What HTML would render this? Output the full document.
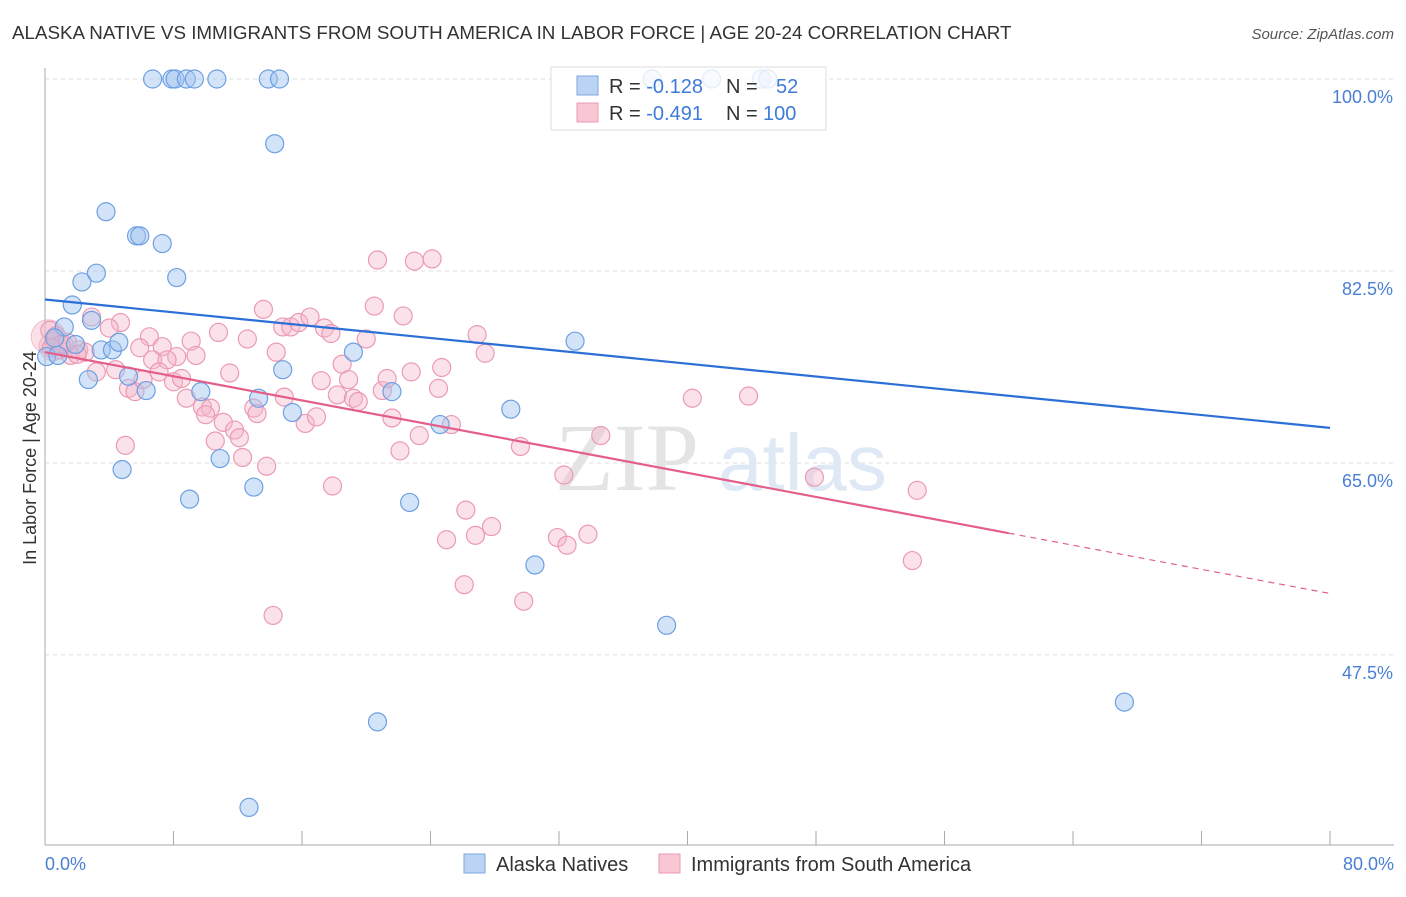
<!DOCTYPE html>
<html><head><meta charset="utf-8">
<style>
body{margin:0;background:#fff;font-family:"Liberation Sans",sans-serif;}
svg text{font-family:"Liberation Sans",sans-serif;}
</style></head>
<body>
<svg id="chart" width="1406" height="892" viewBox="0 0 1406 892" xmlns="http://www.w3.org/2000/svg">
<text x="12" y="39" font-size="18.8" fill="#333">ALASKA NATIVE VS IMMIGRANTS FROM SOUTH AMERICA IN LABOR FORCE | AGE 20-24 CORRELATION CHART</text>
<text x="1394" y="39" font-size="15" fill="#555" font-style="italic" text-anchor="end">Source: ZipAtlas.com</text>
<g id="grid"></g>
<g>
<text x="555" y="490" font-size="96" fill="#e4e4e4" font-family="Liberation Serif" style="font-family:'Liberation Serif',serif">ZIP</text>
<text x="718" y="490" font-size="80" fill="#dfe8f5">atlas</text>
</g>
<g id="axes"></g>
<g id="pts"></g>
<g id="lines"></g>
<text x="36" y="458" font-size="18" fill="#333" transform="rotate(-90 36 458)" text-anchor="middle">In Labor Force | Age 20-24</text>
<text x="45" y="870" font-size="18" fill="#4a7fd4">0.0%</text>
<text x="1394" y="870" font-size="18" fill="#4a7fd4" text-anchor="end">80.0%</text>
<g>
<rect x="551" y="67" width="275" height="63" fill="rgba(255,255,255,0.8)" stroke="#ddd"/>
<rect x="577" y="76" width="21" height="19" fill="#bcd4f4" stroke="#7ea6e0"/>
<rect x="577" y="103" width="21" height="19" fill="#f9c6d4" stroke="#ec9ab2"/>
<text x="609" y="93" font-size="20" fill="#333">R = <tspan fill="#3f7bd8">-0.128</tspan>  <tspan x="726">N =</tspan> <tspan x="776" fill="#3f7bd8">52</tspan></text>
<text x="609" y="120" font-size="20" fill="#333">R = <tspan fill="#3f7bd8">-0.491</tspan>  <tspan x="726">N =</tspan> <tspan x="763" fill="#3f7bd8">100</tspan></text>
</g>
<g>
<rect x="464" y="854" width="21" height="19" fill="#bcd4f4" stroke="#7ea6e0"/>
<text x="496" y="871" font-size="20" fill="#333">Alaska Natives</text>
<rect x="659" y="854" width="21" height="19" fill="#f9c6d4" stroke="#ec9ab2"/>
<text x="691" y="871" font-size="20" fill="#333">Immigrants from South America</text>
</g>
</svg>
<script>
const yTicks=[100,82.5,65,47.5];
const yTickLabels=["100.0%","82.5%","65.0%","47.5%"];
const xTicks=[0,8,16,24,32,40,48,56,64,72,80];
const blueX=[6.7,7.9,8.1,8.8,9.3,10.7,13.9,14.6,37.8,41.5,44.6,45.0,14.3,3.8,5.7,5.9,7.3,8.2,3.2,2.3,1.7,1.2,2.9,0.1,0.6,0.8,1.9,3.5,4.2,4.6,5.2,2.7,6.3,9.7,13.3,14.8,15.4,19.2,21.6,24.6,29.0,33.0,4.8,9.0,10.9,13.0,22.7,30.5,38.7,20.7,12.7,67.2];
const blueY=[100,100,100,100,100,100,100,100,100,100,100,100,94.1,87.9,85.7,85.7,85.0,81.9,82.3,81.5,79.4,77.4,78.0,74.7,76.4,74.8,75.8,75.3,75.3,76.0,72.9,72.6,71.6,71.5,70.9,73.5,69.6,75.1,71.5,68.5,69.9,76.1,64.4,61.7,65.4,62.8,61.4,55.7,50.2,41.4,33.6,43.2];
const pinkX=[20.7,23.0,24.1,13.6,20.5,22.3,14.8,15.3,15.8,16.5,17.4,17.8,10.8,12.6,20.0,14.4,9.1,9.4,6.5,5.9,7.3,8.2,4.7,4.0,2.9,6.7,7.6,7.1,8.0,8.5,11.5,3.2,4.4,5.2,5.6,6.1,8.8,9.8,10.3,10.0,11.1,11.8,12.1,10.6,12.3,13.8,5.0,13.0,13.2,14.9,16.2,16.9,17.2,18.5,18.9,18.2,19.2,19.5,17.9,21.0,21.3,21.6,22.1,22.8,23.3,24.5,24.7,25.3,0.3,0.6,0.9,1.2,1.6,2.1,2.5,26.9,27.4,29.6,26.2,27.8,26.8,25.0,26.1,29.8,31.9,32.5,33.8,34.6,32.3,40.3,43.8,47.9,54.3,54.0,14.2,0.7,1.0,0.4,1.4,2.0];
const pinkY=[83.5,83.4,83.6,79.0,79.3,78.4,77.4,77.4,77.8,78.3,77.3,76.8,76.9,76.3,76.3,75.1,76.1,74.8,76.5,75.5,75.6,74.7,77.8,77.3,78.3,74.4,74.4,73.3,72.4,72.7,73.2,73.3,73.5,71.8,71.5,72.6,70.9,70.1,70.0,69.4,68.7,68.0,67.3,67.0,65.5,64.7,66.6,70.0,69.5,71.0,68.6,69.2,72.5,74.0,72.6,71.2,70.9,70.6,62.9,71.6,72.7,69.1,66.1,73.3,67.5,71.8,73.7,68.5,77.1,76.2,75.3,75.8,74.8,75.3,75.1,76.7,75.0,66.5,60.7,59.2,58.4,58.0,53.9,52.4,58.2,57.5,58.5,67.5,63.9,70.9,71.1,63.7,62.5,56.1,51.1,76.6,75.8,75.5,76.0,74.9];
const blueTrend=[79.9,68.2];
const pinkTrend=[75.1,53.1];
const pinkSolidEnd=60;

const X0=45,X1=1330,Y100=79,PXPER=10.97;
function sx(v){return X0+(v/80)*(X1-X0);}
function sy(v){return Y100+(100-v)*PXPER;}
const NS="http://www.w3.org/2000/svg";
function mk(tag,attrs,parent){const e=document.createElementNS(NS,tag);for(const k in attrs)e.setAttribute(k,attrs[k]);parent.appendChild(e);return e;}
const grid=document.getElementById('grid');
yTicks.forEach((t,i)=>{
 const l=mk('line',{x1:X0,x2:1394,y1:sy(t),y2:sy(t),stroke:'#ddd','stroke-dasharray':'4,4'},grid);
 
 
 const tx=mk('text',{x:1393,y:sy(t)+24,'font-size':18,fill:'#4a7fd4','text-anchor':'end'},grid);
 tx.textContent=yTickLabels[i];
 
 
});
const axes=document.getElementById('axes');
mk('line',{x1:X0,x2:X0,y1:68,y2:845,stroke:'#aaa'},axes);
mk('line',{x1:X0,x2:1394,y1:845,y2:845,stroke:'#aaa'},axes);
xTicks.forEach(t=>{
 const l=mk('line',{x1:sx(t),x2:sx(t),y1:831,y2:845,stroke:'#aaa'},axes);
 
 
});
const pts=document.getElementById('pts');
[[0.2,76.5,17],[0.5,75.6,14]].forEach(b=>{
 const c=mk('circle',{cx:sx(b[0]),cy:sy(b[1]),r:b[2],fill:'rgba(240,170,190,0.35)',stroke:'rgba(232,140,168,0.5)'},pts);
 
 
});
pinkX.forEach((x,i)=>{
 const c=mk('circle',{cx:sx(x),cy:sy(pinkY[i]),r:9,fill:'rgba(246,182,202,0.4)',stroke:'#eb9ab3','stroke-width':1.2},pts);
 
 
});
blueX.forEach((x,i)=>{
 const c=mk('circle',{cx:sx(x),cy:sy(blueY[i]),r:9,fill:'rgba(160,196,240,0.45)',stroke:'#6d9fe2','stroke-width':1.2},pts);
 
 
});
const lines=document.getElementById('lines');
const bl=mk('line',{x1:sx(0),y1:sy(blueTrend[0]),x2:sx(80),y2:sy(blueTrend[1]),stroke:'#2c6fd6','stroke-width':2.2},lines);


const pm=(pinkTrend[1]-pinkTrend[0])/80;
const pl=mk('line',{x1:sx(0),y1:sy(pinkTrend[0]),x2:sx(pinkSolidEnd),y2:sy(pinkTrend[0]+pm*pinkSolidEnd),stroke:'#e35f8a','stroke-width':2.2},lines);


const pd=mk('line',{x1:sx(pinkSolidEnd),y1:sy(pinkTrend[0]+pm*pinkSolidEnd),x2:sx(80),y2:sy(pinkTrend[1]),stroke:'#e35f8a','stroke-width':1.2,'stroke-dasharray':'6,5'},lines);


</script>
</body></html>
